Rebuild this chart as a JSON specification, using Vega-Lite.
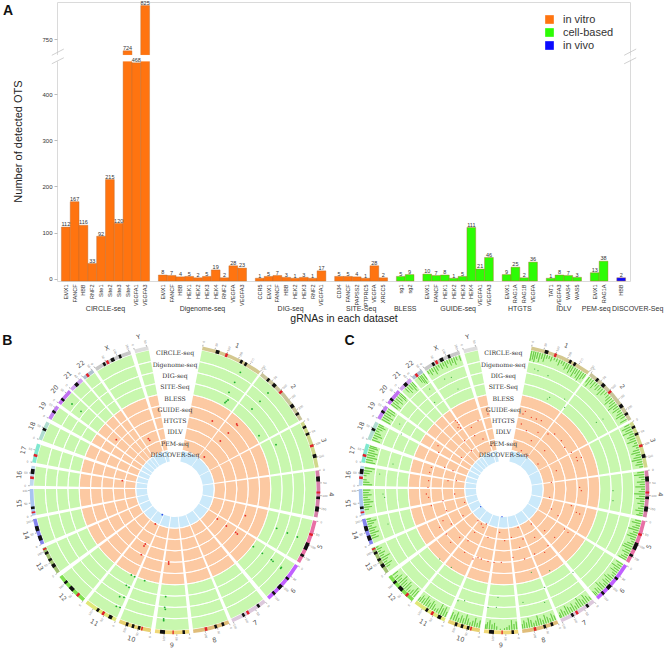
{"$schema":"https://vega.github.io/schema/vega-lite/v6.json","padding":{"left":2,"top":0,"right":0,"bottom":0},"background":"white","spacing":327,"bounds":"flush","config":{"view":{"stroke":null},"axis":{"labelFont":"Liberation Sans","titleFont":"Liberation Sans"},"legend":{"labelFont":"Liberation Sans"}},
"datasets":{
"bars":[
{"dataset":"CIRCLE-seq","grna":"EMX1","n":112,"type":"in vitro"},{"dataset":"CIRCLE-seq","grna":"FANCF","n":167,"type":"in vitro"},{"dataset":"CIRCLE-seq","grna":"HBB","n":116,"type":"in vitro"},{"dataset":"CIRCLE-seq","grna":"RNF2","n":33,"type":"in vitro"},{"dataset":"CIRCLE-seq","grna":"Site1","n":92,"type":"in vitro"},{"dataset":"CIRCLE-seq","grna":"Site2","n":215,"type":"in vitro"},{"dataset":"CIRCLE-seq","grna":"Site3","n":120,"type":"in vitro"},{"dataset":"CIRCLE-seq","grna":"Site4","n":724,"type":"in vitro"},{"dataset":"CIRCLE-seq","grna":"VEGFA1","n":468,"type":"in vitro"},{"dataset":"CIRCLE-seq","grna":"VEGFA3","n":825,"type":"in vitro"},
{"dataset":"Digenome-seq","grna":"EMX1","n":8,"type":"in vitro"},{"dataset":"Digenome-seq","grna":"FANCF","n":7,"type":"in vitro"},{"dataset":"Digenome-seq","grna":"HBB","n":4,"type":"in vitro"},{"dataset":"Digenome-seq","grna":"HEK1","n":5,"type":"in vitro"},{"dataset":"Digenome-seq","grna":"HEK2","n":2,"type":"in vitro"},{"dataset":"Digenome-seq","grna":"HEK3","n":5,"type":"in vitro"},{"dataset":"Digenome-seq","grna":"HEK4","n":19,"type":"in vitro"},{"dataset":"Digenome-seq","grna":"RNF2","n":2,"type":"in vitro"},{"dataset":"Digenome-seq","grna":"VEGFA","n":28,"type":"in vitro"},{"dataset":"Digenome-seq","grna":"VEGFA3","n":23,"type":"in vitro"},
{"dataset":"DIG-seq","grna":"CCR5","n":1,"type":"in vitro"},{"dataset":"DIG-seq","grna":"EMX1","n":5,"type":"in vitro"},{"dataset":"DIG-seq","grna":"FANCF","n":7,"type":"in vitro"},{"dataset":"DIG-seq","grna":"HBB","n":3,"type":"in vitro"},{"dataset":"DIG-seq","grna":"HEK2","n":1,"type":"in vitro"},{"dataset":"DIG-seq","grna":"HEK3","n":3,"type":"in vitro"},{"dataset":"DIG-seq","grna":"RNF2","n":1,"type":"in vitro"},{"dataset":"DIG-seq","grna":"VEGFA1","n":17,"type":"in vitro"},
{"dataset":"SITE-Seq","grna":"CD34","n":5,"type":"in vitro"},{"dataset":"SITE-Seq","grna":"FANCF","n":5,"type":"in vitro"},{"dataset":"SITE-Seq","grna":"PAPSS2","n":4,"type":"in vitro"},{"dataset":"SITE-Seq","grna":"PTPRC5","n":1,"type":"in vitro"},{"dataset":"SITE-Seq","grna":"VEGFA","n":28,"type":"in vitro"},{"dataset":"SITE-Seq","grna":"XRCC5","n":2,"type":"in vitro"},
{"dataset":"BLESS","grna":"sg1","n":5,"type":"cell-based"},{"dataset":"BLESS","grna":"sg2","n":9,"type":"cell-based"},
{"dataset":"GUIDE-seq","grna":"EMX1","n":10,"type":"cell-based"},{"dataset":"GUIDE-seq","grna":"FANCF","n":7,"type":"cell-based"},{"dataset":"GUIDE-seq","grna":"HEK1","n":8,"type":"cell-based"},{"dataset":"GUIDE-seq","grna":"HEK2","n":1,"type":"cell-based"},{"dataset":"GUIDE-seq","grna":"HEK3","n":5,"type":"cell-based"},{"dataset":"GUIDE-seq","grna":"HEK4","n":111,"type":"cell-based"},{"dataset":"GUIDE-seq","grna":"VEGFA1","n":21,"type":"cell-based"},{"dataset":"GUIDE-seq","grna":"VEGFA3","n":46,"type":"cell-based"},
{"dataset":"HTGTS","grna":"EMX1","n":9,"type":"cell-based"},{"dataset":"HTGTS","grna":"RAG1A","n":25,"type":"cell-based"},{"dataset":"HTGTS","grna":"RAG1B","n":2,"type":"cell-based"},{"dataset":"HTGTS","grna":"VEGFA","n":36,"type":"cell-based"},
{"dataset":"IDLV","grna":"TAT1","n":1,"type":"cell-based"},{"dataset":"IDLV","grna":"VEGFA3","n":8,"type":"cell-based"},{"dataset":"IDLV","grna":"WAS4","n":7,"type":"cell-based"},{"dataset":"IDLV","grna":"WAS5","n":3,"type":"cell-based"},
{"dataset":"PEM-seq","grna":"EMX1","n":13,"type":"cell-based"},{"dataset":"PEM-seq","grna":"RAG1A","n":38,"type":"cell-based"},
{"dataset":"DISCOVER-Seq","grna":"HBB","n":2,"type":"in vivo"}],
"sectors":[{"chr":"1","from":11,"to":36},{"chr":"2","from":36.9,"to":61.3},{"chr":"3","from":62.3,"to":81.4},{"chr":"4","from":82.6,"to":101.3},{"chr":"5","from":102.8,"to":120.6},{"chr":"6","from":122,"to":139.5},{"chr":"7","from":141.3,"to":156.6},{"chr":"8","from":158,"to":172.7},{"chr":"9","from":174.3,"to":188},{"chr":"10","from":189.7,"to":202.8},{"chr":"11","from":204.3,"to":218},{"chr":"12","from":219.4,"to":232.7},{"chr":"13","from":234.4,"to":245.9},{"chr":"14","from":247.4,"to":258},{"chr":"15","from":259.4,"to":270},{"chr":"16","from":271.3,"to":279.2},{"chr":"17","from":280.6,"to":288.2},{"chr":"18","from":290,"to":297.7},{"chr":"19","from":299.2,"to":305.1},{"chr":"20","from":306.4,"to":313},{"chr":"21","from":313.8,"to":319.6},{"chr":"22","from":320.5,"to":325.3},{"chr":"X","from":326.5,"to":342},{"chr":"Y","from":343.7,"to":349.3}],
"rings":[{"r":1},{"r":2},{"r":3},{"r":4},{"r":5},{"r":6},{"r":7},{"r":8},{"r":9}],
"bands":[{"s":16.5,"e":18,"st":"dark"},{"s":27,"e":28,"st":"dark"},{"s":29,"e":30,"st":"dark"},{"s":20.5,"e":21.5,"st":"cen"},{"s":40,"e":41,"st":"dark"},{"s":43,"e":44.5,"st":"dark"},{"s":54,"e":55.5,"st":"dark"},{"s":58,"e":59,"st":"dark"},{"s":47,"e":48,"st":"cen"},{"s":64,"e":65,"st":"dark"},{"s":67,"e":68,"st":"dark"},{"s":76,"e":77.5,"st":"dark"},{"s":72,"e":73,"st":"cen"},{"s":85,"e":87,"st":"dark"},{"s":97,"e":99,"st":"dark"},{"s":93,"e":94,"st":"dark"},{"s":91,"e":91.8,"st":"cen"},{"s":112,"e":115,"st":"dark"},{"s":117,"e":118,"st":"dark"},{"s":108,"e":109,"st":"cen"},{"s":132,"e":134,"st":"dark"},{"s":128,"e":129,"st":"dark"},{"s":136,"e":137,"st":"dark"},{"s":151,"e":152,"st":"dark"},{"s":144,"e":145,"st":"dark"},{"s":149,"e":150,"st":"cen"},{"s":160,"e":161,"st":"dark"},{"s":163,"e":164,"st":"dark"},{"s":167,"e":168,"st":"cen"},{"s":176,"e":177,"st":"dark"},{"s":184,"e":186,"st":"dark"},{"s":180.5,"e":181,"st":"cen"},{"s":194,"e":195,"st":"dark"},{"s":199,"e":200,"st":"dark"},{"s":196.5,"e":197.5,"st":"dark"},{"s":193,"e":193.6,"st":"cen"},{"s":206,"e":207.5,"st":"dark"},{"s":212,"e":213,"st":"dark"},{"s":209.5,"e":210.5,"st":"cen"},{"s":225,"e":227,"st":"dark"},{"s":229,"e":230,"st":"dark"},{"s":222,"e":223,"st":"cen"},{"s":237,"e":238.5,"st":"dark"},{"s":240,"e":241,"st":"dark"},{"s":243,"e":244,"st":"dark"},{"s":245,"e":245.6,"st":"cen"},{"s":249,"e":251,"st":"dark"},{"s":253,"e":255,"st":"dark"},{"s":262,"e":263,"st":"dark"},{"s":260.3,"e":261,"st":"cen"},{"s":276,"e":278,"st":"dark"},{"s":274,"e":275,"st":"cen"},{"s":283,"e":284,"st":"cen"},{"s":294,"e":295,"st":"dark"},{"s":302,"e":303,"st":"dark"},{"s":308,"e":309,"st":"dark"},{"s":316,"e":317.5,"st":"dark"},{"s":322,"e":323,"st":"cen"},{"s":330,"e":331,"st":"dark"},{"s":333.5,"e":335,"st":"dark"},{"s":337,"e":338,"st":"dark"},{"s":331.5,"e":332.5,"st":"cen"}],
"ticks":[{"a":11,"n":"0"},{"a":16,"n":"50"},{"a":21,"n":"100"},{"a":26,"n":"150"},{"a":31,"n":"200"},{"a":36,"n":"250"},{"a":36.9,"n":"0"},{"a":41.9,"n":"50"},{"a":46.9,"n":"100"},{"a":51.9,"n":"150"},{"a":56.9,"n":"200"},{"a":62.3,"n":"0"},{"a":67.3,"n":"50"},{"a":72.3,"n":"100"},{"a":77.3,"n":"150"},{"a":82.6,"n":"0"},{"a":87.6,"n":"50"},{"a":92.6,"n":"100"},{"a":97.6,"n":"150"},{"a":102.8,"n":"0"},{"a":107.8,"n":"50"},{"a":112.8,"n":"100"},{"a":117.8,"n":"150"},{"a":122,"n":"0"},{"a":127,"n":"50"},{"a":132,"n":"100"},{"a":137,"n":"150"},{"a":141.3,"n":"0"},{"a":146.3,"n":"50"},{"a":151.3,"n":"100"},{"a":156.3,"n":"150"},{"a":158,"n":"0"},{"a":163,"n":"50"},{"a":168,"n":"100"},{"a":174.3,"n":"0"},{"a":179.3,"n":"50"},{"a":184.3,"n":"100"},{"a":189.7,"n":"0"},{"a":194.7,"n":"50"},{"a":199.7,"n":"100"},{"a":204.3,"n":"0"},{"a":209.3,"n":"50"},{"a":214.3,"n":"100"},{"a":219.4,"n":"0"},{"a":224.4,"n":"50"},{"a":229.4,"n":"100"},{"a":234.4,"n":"0"},{"a":239.4,"n":"50"},{"a":244.4,"n":"100"},{"a":247.4,"n":"0"},{"a":252.4,"n":"50"},{"a":257.4,"n":"100"},{"a":259.4,"n":"0"},{"a":264.4,"n":"50"},{"a":269.4,"n":"100"},{"a":271.3,"n":"0"},{"a":276.3,"n":"50"},{"a":280.6,"n":"0"},{"a":285.6,"n":"50"},{"a":290,"n":"0"},{"a":295,"n":"50"},{"a":299.2,"n":"0"},{"a":304.2,"n":"50"},{"a":306.4,"n":"0"},{"a":311.4,"n":"50"},{"a":313.8,"n":"0"},{"a":318.8,"n":"40"},{"a":320.5,"n":"0"},{"a":325,"n":"50"},{"a":326.5,"n":"0"},{"a":331.5,"n":"50"},{"a":336.5,"n":"100"},{"a":341.5,"n":"150"},{"a":343.7,"n":"0"},{"a":348.7,"n":"50"}],
"tracks":[{"label":"CIRCLE-seq","y":88},{"label":"Digenome-seq","y":123},{"label":"DIG-seq","y":157},{"label":"SITE-Seq","y":190},{"label":"BLESS","y":224},{"label":"GUIDE-seq","y":258},{"label":"HTGTS","y":292},{"label":"IDLV","y":325},{"label":"PEM-seq","y":360},{"label":"DISCOVER-Seq","y":394}],
"dotsB":[{"x":717,"y":145,"c":"g"},{"x":700,"y":175,"c":"g"},{"x":683,"y":205,"c":"g"},{"x":680,"y":228,"c":"g"},{"x":675,"y":232,"c":"g"},{"x":671,"y":236,"c":"g"},{"x":800,"y":207,"c":"g"},{"x":776,"y":232,"c":"g"},{"x":752,"y":255,"c":"g"},{"x":773,"y":335,"c":"g"},{"x":824,"y":362,"c":"g"},{"x":826,"y":613,"c":"g"},{"x":858,"y":627,"c":"g"},{"x":888,"y":639,"c":"g"},{"x":756,"y":668,"c":"g"},{"x":783,"y":688,"c":"g"},{"x":810,"y":707,"c":"g"},{"x":815,"y":712,"c":"g"},{"x":840,"y":730,"c":"g"},{"x":838,"y":733,"c":"g"},{"x":493,"y":818,"c":"g"},{"x":490,"y":850,"c":"g"},{"x":492,"y":856,"c":"g"},{"x":487,"y":885,"c":"g"},{"x":487,"y":890,"c":"g"},{"x":390,"y":753,"c":"g"},{"x":400,"y":758,"c":"g"},{"x":430,"y":770,"c":"g"},{"x":375,"y":784,"c":"g"},{"x":383,"y":790,"c":"g"},{"x":355,"y":818,"c":"g"},{"x":368,"y":820,"c":"g"},{"x":345,"y":847,"c":"g"},{"x":356,"y":850,"c":"g"},{"x":212,"y":240,"c":"g"},{"x":239,"y":262,"c":"g"},{"x":633,"y":291,"c":"r"},{"x":706,"y":300,"c":"r"},{"x":708,"y":304,"c":"r"},{"x":681,"y":327,"c":"r"},{"x":657,"y":351,"c":"r"},{"x":609,"y":399,"c":"r"},{"x":732,"y":575,"c":"r"},{"x":648,"y":585,"c":"r"},{"x":675,"y":606,"c":"r"},{"x":703,"y":625,"c":"r"},{"x":708,"y":630,"c":"r"},{"x":502,"y":714,"c":"r"},{"x":502,"y":720,"c":"r"},{"x":432,"y":660,"c":"r"},{"x":428,"y":666,"c":"r"},{"x":420,"y":692,"c":"r"},{"x":462,"y":600,"c":"r"},{"x":363,"y":470,"c":"r"},{"x":345,"y":347,"c":"r"},{"x":441,"y":344,"c":"r"},{"x":445,"y":349,"c":"r"},{"x":483,"y":572,"c":"b"}],
"dotsC":[{"x":378,"y":295,"c":"r"},{"x":383,"y":302,"c":"r"},{"x":372,"y":290,"c":"r"},{"x":380,"y":310,"c":"r"},{"x":388,"y":312,"c":"r"},{"x":320,"y":365,"c":"r"},{"x":322,"y":385,"c":"r"},{"x":300,"y":430,"c":"r"},{"x":295,"y":445,"c":"r"},{"x":292,"y":470,"c":"r"},{"x":290,"y":490,"c":"r"},{"x":285,"y":510,"c":"r"},{"x":292,"y":520,"c":"r"},{"x":300,"y":545,"c":"r"},{"x":325,"y":610,"c":"r"},{"x":335,"y":590,"c":"r"},{"x":345,"y":630,"c":"r"},{"x":358,"y":655,"c":"r"},{"x":400,"y":685,"c":"r"},{"x":425,"y":705,"c":"r"},{"x":440,"y":700,"c":"r"},{"x":450,"y":705,"c":"r"},{"x":470,"y":712,"c":"r"},{"x":488,"y":715,"c":"r"},{"x":510,"y":715,"c":"r"},{"x":545,"y":700,"c":"r"},{"x":580,"y":705,"c":"r"},{"x":610,"y":690,"c":"r"},{"x":640,"y":685,"c":"r"},{"x":650,"y":665,"c":"r"},{"x":470,"y":640,"c":"r"},{"x":505,"y":625,"c":"r"},{"x":540,"y":640,"c":"r"},{"x":575,"y":645,"c":"r"},{"x":610,"y":640,"c":"r"},{"x":640,"y":620,"c":"r"},{"x":670,"y":640,"c":"r"},{"x":700,"y":615,"c":"r"},{"x":710,"y":625,"c":"r"},{"x":735,"y":565,"c":"r"},{"x":745,"y":570,"c":"r"},{"x":660,"y":555,"c":"r"},{"x":680,"y":575,"c":"r"},{"x":720,"y":545,"c":"r"},{"x":735,"y":400,"c":"r"},{"x":738,"y":410,"c":"r"},{"x":750,"y":400,"c":"r"},{"x":745,"y":490,"c":"r"},{"x":750,"y":500,"c":"r"},{"x":675,"y":440,"c":"r"},{"x":720,"y":385,"c":"r"},{"x":700,"y":370,"c":"r"},{"x":690,"y":350,"c":"r"},{"x":670,"y":330,"c":"r"},{"x":650,"y":330,"c":"r"},{"x":630,"y":290,"c":"r"},{"x":615,"y":285,"c":"r"},{"x":600,"y":280,"c":"r"},{"x":582,"y":262,"c":"r"},{"x":575,"y":270,"c":"r"},{"x":570,"y":300,"c":"r"},{"x":585,"y":320,"c":"r"},{"x":620,"y":325,"c":"r"},{"x":600,"y":350,"c":"r"},{"x":570,"y":380,"c":"r"},{"x":590,"y":395,"c":"r"},{"x":640,"y":380,"c":"r"},{"x":620,"y":420,"c":"r"},{"x":660,"y":475,"c":"r"},{"x":655,"y":520,"c":"r"},{"x":440,"y":590,"c":"r"},{"x":450,"y":600,"c":"r"},{"x":465,"y":600,"c":"r"},{"x":455,"y":610,"c":"r"},{"x":430,"y":625,"c":"r"},{"x":410,"y":650,"c":"r"},{"x":385,"y":640,"c":"r"},{"x":360,"y":600,"c":"r"},{"x":345,"y":560,"c":"r"},{"x":335,"y":530,"c":"r"},{"x":350,"y":470,"c":"r"},{"x":365,"y":440,"c":"r"},{"x":340,"y":430,"c":"r"},{"x":400,"y":350,"c":"r"},{"x":420,"y":310,"c":"r"},{"x":440,"y":290,"c":"r"},{"x":470,"y":270,"c":"r"},{"x":430,"y":335,"c":"r"},{"x":455,"y":345,"c":"r"},{"x":420,"y":380,"c":"r"},{"x":480,"y":365,"c":"r"},{"x":390,"y":400,"c":"r"},{"x":375,"y":470,"c":"r"},{"x":370,"y":510,"c":"r"},{"x":400,"y":535,"c":"r"},{"x":395,"y":575,"c":"r"},{"x":520,"y":650,"c":"r"},{"x":560,"y":610,"c":"r"},{"x":600,"y":600,"c":"r"},{"x":565,"y":670,"c":"r"},{"x":610,"y":135,"c":"g"},{"x":620,"y":140,"c":"g"},{"x":650,"y":155,"c":"g"},{"x":700,"y":225,"c":"g"},{"x":648,"y":225,"c":"g"},{"x":655,"y":220,"c":"g"},{"x":815,"y":285,"c":"g"},{"x":795,"y":295,"c":"g"},{"x":845,"y":500,"c":"g"},{"x":845,"y":530,"c":"g"},{"x":700,"y":250,"c":"g"},{"x":655,"y":740,"c":"g"},{"x":725,"y":745,"c":"g"},{"x":640,"y":790,"c":"g"},{"x":380,"y":830,"c":"g"},{"x":400,"y":830,"c":"g"},{"x":470,"y":850,"c":"g"},{"x":495,"y":850,"c":"g"},{"x":360,"y":730,"c":"g"},{"x":325,"y":705,"c":"g"},{"x":170,"y":600,"c":"g"},{"x":160,"y":520,"c":"g"},{"x":155,"y":510,"c":"g"},{"x":145,"y":450,"c":"g"},{"x":185,"y":420,"c":"g"},{"x":205,"y":300,"c":"g"},{"x":210,"y":330,"c":"g"},{"x":295,"y":195,"c":"g"},{"x":340,"y":165,"c":"g"},{"x":360,"y":160,"c":"g"},{"x":380,"y":195,"c":"g"},{"x":310,"y":235,"c":"g"},{"x":600,"y":745,"c":"g"},{"x":500,"y":820,"c":"g"},{"x":640,"y":835,"c":"g"},{"x":575,"y":835,"c":"g"},{"x":448,"y":548,"c":"b"},{"x":512,"y":578,"c":"b"}],
"hist":[{"a":11.4,"h":0.9},{"a":12.3,"h":0.75},{"a":13.1,"h":0.95},{"a":14,"h":0.6},{"a":15,"h":0.85},{"a":16,"h":0.5},{"a":17,"h":0.7},{"a":18,"h":0.35},{"a":19,"h":0.3},{"a":20,"h":0.45},{"a":21.2,"h":0.25},{"a":22.3,"h":0.3},{"a":23.5,"h":0.55},{"a":24.5,"h":0.3},{"a":25.5,"h":0.4},{"a":26.6,"h":0.65},{"a":27.5,"h":0.5},{"a":28.6,"h":0.8},{"a":29.5,"h":0.6},{"a":30.6,"h":0.9},{"a":31.5,"h":0.55},{"a":32.5,"h":0.8},{"a":33.5,"h":0.95},{"a":34.5,"h":0.7},{"a":35.4,"h":0.5},
{"a":37.4,"h":0.6},{"a":38.4,"h":0.9},{"a":39.4,"h":0.5},{"a":40.5,"h":0.75},{"a":41.5,"h":0.35},{"a":42.5,"h":0.6},{"a":43.6,"h":0.45},{"a":44.6,"h":0.8},{"a":45.7,"h":0.55},{"a":46.8,"h":0.3},{"a":48,"h":0.4},{"a":49,"h":0.6},{"a":50,"h":0.85},{"a":51,"h":0.5},{"a":52,"h":0.7},{"a":53,"h":0.95},{"a":54,"h":0.55},{"a":55,"h":0.75},{"a":56,"h":0.4},{"a":57,"h":0.6},{"a":58,"h":0.8},{"a":59,"h":0.45},{"a":60.4,"h":0.65},
{"a":62.8,"h":0.5},{"a":63.8,"h":0.85},{"a":64.8,"h":0.6},{"a":65.8,"h":0.95},{"a":66.8,"h":0.4},{"a":67.8,"h":0.7},{"a":68.8,"h":0.55},{"a":69.8,"h":0.85},{"a":70.8,"h":0.3},{"a":71.8,"h":0.5},{"a":72.8,"h":0.25},{"a":73.8,"h":0.6},{"a":74.8,"h":0.8},{"a":75.8,"h":0.45},{"a":76.8,"h":0.7},{"a":77.8,"h":0.9},{"a":78.8,"h":0.5},{"a":79.8,"h":0.65},{"a":80.8,"h":0.35},
{"a":83.1,"h":0.6},{"a":84.1,"h":0.9},{"a":85.1,"h":0.5},{"a":86.1,"h":0.3},{"a":87.1,"h":0.7},{"a":88.1,"h":0.45},{"a":89.1,"h":0.85},{"a":90.1,"h":0.35},{"a":91.1,"h":0.55},{"a":92.1,"h":0.95},{"a":93.1,"h":0.5},{"a":94.1,"h":0.75},{"a":95.1,"h":0.4},{"a":96.1,"h":0.6},{"a":97.1,"h":0.3},{"a":98.1,"h":0.5},{"a":99.1,"h":0.7},{"a":100.1,"h":0.35},{"a":100.9,"h":0.55},
{"a":103.3,"h":0.55},{"a":104.3,"h":0.8},{"a":105.3,"h":0.4},{"a":106.3,"h":0.65},{"a":107.3,"h":0.95},{"a":108.3,"h":0.45},{"a":109.3,"h":0.7},{"a":110.3,"h":0.85},{"a":111.3,"h":0.5},{"a":112.3,"h":0.3},{"a":113.3,"h":0.6},{"a":114.3,"h":0.8},{"a":115.3,"h":0.9},{"a":116.3,"h":0.5},{"a":117.3,"h":0.7},{"a":118.3,"h":0.4},{"a":119.3,"h":0.6},{"a":120.2,"h":0.75},
{"a":122.5,"h":0.7},{"a":123.5,"h":0.45},{"a":124.5,"h":0.9},{"a":125.5,"h":0.55},{"a":126.5,"h":0.75},{"a":127.5,"h":0.4},{"a":128.5,"h":0.3},{"a":129.5,"h":0.6},{"a":130.5,"h":0.8},{"a":131.5,"h":0.5},{"a":132.5,"h":0.65},{"a":133.5,"h":0.35},{"a":134.5,"h":0.7},{"a":135.5,"h":0.9},{"a":136.5,"h":0.45},{"a":137.5,"h":0.6},{"a":138.5,"h":0.35},{"a":139.1,"h":0.5},
{"a":141.8,"h":0.35},{"a":142.8,"h":0.6},{"a":143.8,"h":0.85},{"a":144.8,"h":0.5},{"a":145.8,"h":0.7},{"a":146.8,"h":0.95},{"a":147.8,"h":0.6},{"a":148.8,"h":0.4},{"a":149.8,"h":0.75},{"a":150.8,"h":0.5},{"a":151.8,"h":0.65},{"a":152.8,"h":0.85},{"a":153.8,"h":0.45},{"a":154.8,"h":0.7},{"a":155.8,"h":0.5},{"a":156.3,"h":0.3},
{"a":158.5,"h":0.45},{"a":159.5,"h":0.7},{"a":160.5,"h":0.35},{"a":161.5,"h":0.55},{"a":162.5,"h":0.8},{"a":163.5,"h":0.4},{"a":164.5,"h":0.6},{"a":165.5,"h":0.9},{"a":166.5,"h":0.5},{"a":167.5,"h":0.35},{"a":168.5,"h":0.65},{"a":169.5,"h":0.85},{"a":170.5,"h":0.5},{"a":171.5,"h":0.7},{"a":172.3,"h":0.4},
{"a":174.8,"h":0.7},{"a":175.8,"h":0.5},{"a":176.8,"h":0.85},{"a":177.8,"h":0.4},{"a":178.8,"h":0.25},{"a":179.8,"h":0.15},{"a":181.5,"h":0.1},{"a":183,"h":0.3},{"a":184,"h":0.6},{"a":185,"h":0.45},{"a":186,"h":0.8},{"a":187,"h":0.6},{"a":187.6,"h":0.4},
{"a":190.2,"h":0.65},{"a":191.2,"h":0.4},{"a":192.2,"h":0.8},{"a":193.2,"h":0.5},{"a":194.2,"h":0.3},{"a":195.2,"h":0.6},{"a":196.2,"h":0.9},{"a":197.2,"h":0.5},{"a":198.2,"h":0.7},{"a":199.2,"h":0.4},{"a":200.2,"h":0.85},{"a":201.2,"h":0.55},{"a":202.3,"h":0.7},
{"a":204.8,"h":0.5},{"a":205.8,"h":0.85},{"a":206.8,"h":0.65},{"a":207.8,"h":0.95},{"a":208.8,"h":0.4},{"a":209.8,"h":0.3},{"a":210.8,"h":0.6},{"a":211.8,"h":0.8},{"a":212.8,"h":0.5},{"a":213.8,"h":0.7},{"a":214.8,"h":0.9},{"a":215.8,"h":0.55},{"a":216.8,"h":0.7},{"a":217.6,"h":0.4},
{"a":219.9,"h":0.7},{"a":220.9,"h":0.9},{"a":221.9,"h":0.5},{"a":222.9,"h":0.3},{"a":223.9,"h":0.65},{"a":224.9,"h":0.85},{"a":225.9,"h":0.55},{"a":226.9,"h":0.75},{"a":227.9,"h":0.95},{"a":228.9,"h":0.5},{"a":229.9,"h":0.7},{"a":230.9,"h":0.4},{"a":232.2,"h":0.6},
{"a":236.5,"h":0.4},{"a":237.5,"h":0.7},{"a":238.5,"h":0.35},{"a":239.5,"h":0.55},{"a":240.5,"h":0.85},{"a":241.5,"h":0.4},{"a":242.5,"h":0.6},{"a":243.5,"h":0.3},{"a":244.5,"h":0.5},{"a":245.4,"h":0.25},
{"a":249.5,"h":0.65},{"a":250.5,"h":0.45},{"a":251.5,"h":0.8},{"a":252.5,"h":0.5},{"a":253.5,"h":0.7},{"a":254.5,"h":0.35},{"a":255.5,"h":0.6},{"a":256.5,"h":0.85},{"a":257.5,"h":0.4},
{"a":261.5,"h":0.4},{"a":262.5,"h":0.7},{"a":263.5,"h":0.5},{"a":264.5,"h":0.85},{"a":265.5,"h":0.6},{"a":266.5,"h":0.4},{"a":267.5,"h":0.75},{"a":268.5,"h":0.5},{"a":269.5,"h":0.65},
{"a":271.8,"h":0.8},{"a":272.8,"h":0.55},{"a":273.8,"h":0.3},{"a":275.5,"h":0.25},{"a":276.5,"h":0.5},{"a":277.5,"h":0.7},{"a":278.7,"h":0.9},
{"a":281.1,"h":0.85},{"a":282.1,"h":0.6},{"a":283.1,"h":0.95},{"a":284.1,"h":0.7},{"a":285.1,"h":0.9},{"a":286.1,"h":0.55},{"a":287.1,"h":0.8},{"a":287.8,"h":0.65},
{"a":290.5,"h":0.75},{"a":291.5,"h":0.45},{"a":292.5,"h":0.8},{"a":293.5,"h":0.6},{"a":294.5,"h":0.35},{"a":295.5,"h":0.55},{"a":296.5,"h":0.75},{"a":297.3,"h":0.5},
{"a":299.7,"h":0.9},{"a":300.7,"h":0.7},{"a":301.7,"h":0.95},{"a":302.7,"h":0.6},{"a":303.7,"h":0.85},{"a":304.7,"h":0.75},
{"a":306.9,"h":0.7},{"a":307.9,"h":0.9},{"a":308.9,"h":0.5},{"a":309.9,"h":0.8},{"a":310.9,"h":0.6},{"a":312,"h":0.85},{"a":312.7,"h":0.7},
{"a":315.5,"h":0.5},{"a":316.5,"h":0.75},{"a":317.5,"h":0.55},{"a":318.5,"h":0.85},{"a":319.3,"h":0.6},
{"a":322.5,"h":0.6},{"a":323.3,"h":0.8},{"a":324,"h":0.95},{"a":325,"h":0.65},
{"a":327,"h":0.35},{"a":328,"h":0.6},{"a":329,"h":0.4},{"a":330,"h":0.75},{"a":331,"h":0.5},{"a":332,"h":0.3},{"a":333,"h":0.55},{"a":334,"h":0.4},{"a":335,"h":0.65},{"a":336,"h":0.35},{"a":337,"h":0.6},{"a":338,"h":0.45},{"a":339,"h":0.7},{"a":340,"h":0.35},{"a":341.4,"h":0.5}]
},
"vconcat":[
{"spacing":0,"bounds":"flush","hconcat":[
{"width":41.3,"height":279,"data":{"values":[{"label":"A","x":-7,"y":9}]},"mark":{"type":"text","font":"Liberation Sans","fontWeight":"bold","fontSize":14,"color":"#111"},"encoding":{"x":{"field":"x","type":"quantitative","axis":null,"scale":{"domain":[0,41.3],"nice":false,"zero":false}},"y":{"field":"y","type":"quantitative","axis":null,"scale":{"domain":[279,0],"nice":false,"zero":false}},"text":{"field":"label"}}},
{"width":573,"height":279,"view":{"stroke":"#dadada","strokeWidth":1},
"encoding":{"x":{"field":"k","type":"nominal","title":"gRNAs in each dataset","scale":{"paddingInner":0,"paddingOuter":0.5,"domain":["CIRCLE-seq|EMX1","CIRCLE-seq|FANCF","CIRCLE-seq|HBB","CIRCLE-seq|RNF2","CIRCLE-seq|Site1","CIRCLE-seq|Site2","CIRCLE-seq|Site3","CIRCLE-seq|Site4","CIRCLE-seq|VEGFA1","CIRCLE-seq|VEGFA3","g1","Digenome-seq|EMX1","Digenome-seq|FANCF","Digenome-seq|HBB","Digenome-seq|HEK1","Digenome-seq|HEK2","Digenome-seq|HEK3","Digenome-seq|HEK4","Digenome-seq|RNF2","Digenome-seq|VEGFA","Digenome-seq|VEGFA3","g2","DIG-seq|CCR5","DIG-seq|EMX1","DIG-seq|FANCF","DIG-seq|HBB","DIG-seq|HEK2","DIG-seq|HEK3","DIG-seq|RNF2","DIG-seq|VEGFA1","g3","SITE-Seq|CD34","SITE-Seq|FANCF","SITE-Seq|PAPSS2","SITE-Seq|PTPRC5","SITE-Seq|VEGFA","SITE-Seq|XRCC5","g4","BLESS|sg1","BLESS|sg2","g5","GUIDE-seq|EMX1","GUIDE-seq|FANCF","GUIDE-seq|HEK1","GUIDE-seq|HEK2","GUIDE-seq|HEK3","GUIDE-seq|HEK4","GUIDE-seq|VEGFA1","GUIDE-seq|VEGFA3","g6","HTGTS|EMX1","HTGTS|RAG1A","HTGTS|RAG1B","HTGTS|VEGFA","g7","IDLV|TAT1","IDLV|VEGFA3","IDLV|WAS4","IDLV|WAS5","g8","PEM-seq|EMX1","PEM-seq|RAG1A","g9","DISCOVER-Seq|HBB"]},
"axis":{"labelAngle":270,"labelFontSize":5.5,"labelColor":"#333","labelExpr":"split(datum.label,'|')[1] || ''","ticks":false,"domain":false,"labelPadding":3,"labelOverlap":false,"titleFontSize":10.5,"titleFontWeight":"normal","titleColor":"#222","titlePadding":8}},
"y":{"type":"quantitative","scale":{"domain":[-5,472,714,833],"range":[279,59,53.3,0],"nice":false,"zero":false}}},
"layer":[
{"data":{"name":"bars"},"transform":[{"calculate":"datum.dataset+'|'+datum.grna","as":"k"}],"mark":{"type":"bar","stroke":"#b86a30","strokeWidth":0.4},"encoding":{"y":{"field":"n","type":"quantitative","title":"Number of detected OTS","axis":{"values":[0,50,100,150,200,250,300,350,400,450,750,800],"labelFontSize":6,"labelColor":"#333","tickSize":3,"tickColor":"#bbb","domain":false,"grid":false,"labelPadding":2,"titleFontSize":11,"titleFontWeight":"normal","titleColor":"#222","titlePadding":18,"titleY":139}},"y2":{"datum":-5},"color":{"field":"type","type":"nominal","scale":{"domain":["in vitro","cell-based","in vivo"],"range":["#ff7410","#2dfc05","#0a0aff"]},"legend":{"title":null,"orient":"none","legendX":529,"legendY":12,"symbolType":"square","symbolSize":75,"symbolStrokeWidth":0,"labelFontSize":11,"labelColor":"#333","rowPadding":1,"labelOffset":8}}}},
{"data":{"values":[{}]},"mark":{"type":"rect","fill":"white","stroke":"white","strokeWidth":1},"encoding":{"x":{"value":0},"x2":{"value":573},"y":{"datum":476},"y2":{"datum":708}}},
{"data":{"values":[{"k":"CIRCLE-seq|EMX1"}]},"mark":{"type":"rule","color":"#c4c4c4","strokeWidth":0.8,"xOffset":-14,"x2Offset":-2},"encoding":{"x2":{"field":"k"},"y":{"datum":714},"y2":{"datum":728}}},
{"data":{"values":[{"k":"CIRCLE-seq|EMX1"}]},"mark":{"type":"rule","color":"#c4c4c4","strokeWidth":0.8,"xOffset":-14,"x2Offset":-2},"encoding":{"x2":{"field":"k"},"y":{"datum":466},"y2":{"datum":610}}},
{"data":{"values":[{"k":"DISCOVER-Seq|HBB"}]},"mark":{"type":"rule","color":"#c4c4c4","strokeWidth":0.8,"xOffset":3,"x2Offset":15},"encoding":{"x2":{"field":"k"},"y":{"datum":714},"y2":{"datum":728}}},
{"data":{"values":[{"k":"DISCOVER-Seq|HBB"}]},"mark":{"type":"rule","color":"#c4c4c4","strokeWidth":0.8,"xOffset":3,"x2Offset":15},"encoding":{"x2":{"field":"k"},"y":{"datum":466},"y2":{"datum":610}}},
{"data":{"name":"bars"},"transform":[{"calculate":"datum.dataset+'|'+datum.grna","as":"k"}],"mark":{"type":"text","font":"Liberation Sans","fontSize":5.5,"color":"#333","dy":-2.7},"encoding":{"y":{"field":"n","type":"quantitative"},"text":{"field":"n"}}},
{"data":{"values":[{"group":"CIRCLE-seq","k":"CIRCLE-seq|Site1"},{"group":"Digenome-seq","k":"Digenome-seq|HEK2"},{"group":"DIG-seq","k":"DIG-seq|HBB"},{"group":"SITE-Seq","k":"SITE-Seq|PAPSS2"},{"group":"BLESS","k":"BLESS|sg1"},{"group":"GUIDE-seq","k":"GUIDE-seq|HEK2"},{"group":"HTGTS","k":"HTGTS|RAG1A"},{"group":"IDLV","k":"IDLV|VEGFA3"}]},"mark":{"type":"text","font":"Liberation Sans","fontSize":7,"color":"#333"},"encoding":{"x":{"field":"k","type":"nominal","bandPosition":1},"y":{"datum":-65},"text":{"field":"group"}}},
{"data":{"values":[{"group":"PEM-seq","k":"PEM-seq|EMX1"}]},"mark":{"type":"text","font":"Liberation Sans","fontSize":7,"color":"#333","dx":-3},"encoding":{"x":{"field":"k","type":"nominal","bandPosition":1},"y":{"datum":-65},"text":{"field":"group"}}},
{"data":{"values":[{"group":"DISCOVER-Seq","k":"DISCOVER-Seq|HBB"}]},"mark":{"type":"text","font":"Liberation Sans","fontSize":7,"color":"#333","dx":12},"encoding":{"x":{"field":"k","type":"nominal","bandPosition":1},"y":{"datum":-65},"text":{"field":"group"}}}
]}
]},
{"spacing":9,"bounds":"flush","hconcat":[
{"width":320,"height":320,"encoding":{"x":{"type":"quantitative","axis":null,"scale":{"domain":[41,1001],"nice":false,"zero":false}},"y":{"type":"quantitative","axis":null,"scale":{"domain":[975,15],"nice":false,"zero":false}}},
"layer":[
{"data":{"name":"sectors"},"mark":{"type":"arc","fill":"#c8f7ae"},"encoding":{"theta":{"field":"from","type":"quantitative","scale":{"domain":[0,360],"nice":false}},"theta2":{"field":"to"},"radius":{"datum":6,"type":"quantitative","scale":{"type":"linear","domain":[0,10],"range":[28,141],"zero":false,"nice":false}},"radius2":{"datum":10}}},
{"data":{"name":"sectors"},"mark":{"type":"arc","fill":"#fcc9a2"},"encoding":{"theta":{"field":"from","type":"quantitative"},"theta2":{"field":"to"},"radius":{"datum":1,"type":"quantitative"},"radius2":{"datum":6}}},
{"data":{"name":"sectors"},"mark":{"type":"arc","fill":"#cbe9fa"},"encoding":{"theta":{"field":"from","type":"quantitative"},"theta2":{"field":"to"},"radius":{"datum":0,"type":"quantitative"},"radius2":{"datum":1}}},
{"data":{"name":"rings"},"mark":{"type":"arc","fill":null,"stroke":"white","strokeWidth":0.9},"encoding":{"theta":{"datum":0,"type":"quantitative"},"theta2":{"datum":360},"radius":{"field":"r","type":"quantitative"},"radius2":{"field":"r"}}},
{"data":{"name":"sectors"},"mark":{"type":"arc"},"encoding":{"theta":{"field":"from","type":"quantitative"},"theta2":{"field":"to"},"radius":{"datum":10.05,"type":"quantitative"},"radius2":{"datum":10.38},"fill":{"field":"chr","legend":null,"scale":{"domain":["1","2","3","4","5","6","7","8","9","10","11","12","13","14","15","16","17","18","19","20","21","22","X","Y"],"range":["#d4c88f","#c9c49a","#cfd88a","#d680a8","#e870a5","#c060ff","#dcc8dc","#e0bd7a","#f0d878","#e8d070","#dfe878","#80e050","#a0c070","#8484ee","#a8c4f0","#c0d8ee","#80e8d0","#b0dcd0","#c080f0","#c070f0","#d0a0f0","#b0c0d0","#c8c8c8","#dddddd"]}}}},
{"data":{"name":"bands"},"transform":[{"filter":"datum.st=='dark'"}],"mark":{"type":"arc","fill":"#111"},"encoding":{"theta":{"field":"s","type":"quantitative"},"theta2":{"field":"e"},"radius":{"datum":10.05,"type":"quantitative"},"radius2":{"datum":10.38}}},
{"data":{"name":"bands"},"transform":[{"filter":"datum.st=='cen'"}],"mark":{"type":"arc","fill":"#e0202a"},"encoding":{"theta":{"field":"s","type":"quantitative"},"theta2":{"field":"e"},"radius":{"datum":10.05,"type":"quantitative"},"radius2":{"datum":10.38}}},
{"data":{"name":"ticks"},"mark":{"type":"arc","fill":null,"stroke":"#888","strokeWidth":0.4},"encoding":{"theta":{"field":"a","type":"quantitative"},"theta2":{"field":"a"},"radius":{"datum":10.38,"type":"quantitative"},"radius2":{"datum":10.52}}},
{"data":{"name":"ticks"},"transform":[{"calculate":"datum.a<180?datum.a-90:datum.a+90","as":"rot"}],"mark":{"type":"text","font":"Liberation Sans","fontSize":3,"color":"#777"},"encoding":{"theta":{"field":"a","type":"quantitative","stack":null},"radius":{"datum":10.8,"type":"quantitative"},"angle":{"field":"rot","type":"quantitative","scale":null},"text":{"field":"n"}}},
{"data":{"name":"sectors"},"transform":[{"calculate":"(datum.from+datum.to)/2","as":"mid"},{"calculate":"datum.mid>100&&datum.mid<260?datum.mid-180:datum.mid","as":"rot"}],"mark":{"type":"text","font":"DejaVu Sans","fontSize":6.5,"color":"#555"},"encoding":{"theta":{"field":"mid","type":"quantitative","stack":null},"radius":{"datum":11.35,"type":"quantitative"},"angle":{"field":"rot","type":"quantitative","scale":null},"text":{"field":"chr"}}},
{"data":{"name":"dotsB"},"transform":[{"filter":"datum.c=='g'"}],"mark":{"type":"circle","size":3.5,"color":"#20b030","opacity":1},"encoding":{"x":{"field":"x","type":"quantitative"},"y":{"field":"y","type":"quantitative"}}},
{"data":{"name":"dotsB"},"transform":[{"filter":"datum.c=='r'"}],"mark":{"type":"circle","size":3.5,"color":"#e8302a","opacity":1},"encoding":{"x":{"field":"x","type":"quantitative"},"y":{"field":"y","type":"quantitative"}}},
{"data":{"name":"dotsB"},"transform":[{"filter":"datum.c=='b'"}],"mark":{"type":"circle","size":3.5,"color":"#2a50e8","opacity":1},"encoding":{"x":{"field":"x","type":"quantitative"},"y":{"field":"y","type":"quantitative"}}},
{"data":{"name":"tracks"},"mark":{"type":"text","font":"DejaVu Serif","fontSize":6.2,"color":"#333"},"encoding":{"x":{"datum":521},"y":{"field":"y","type":"quantitative"},"text":{"field":"label"}}},
{"data":{"values":[{"label":"B","x":18,"y":52}]},"mark":{"type":"text","font":"Liberation Sans","fontWeight":"bold","fontSize":14,"color":"#111"},"encoding":{"x":{"field":"x","type":"quantitative"},"y":{"field":"y","type":"quantitative"},"text":{"field":"label"}}}
]},
{"width":320,"height":320,"encoding":{"x":{"type":"quantitative","axis":null,"scale":{"domain":[38,998],"nice":false,"zero":false}},"y":{"type":"quantitative","axis":null,"scale":{"domain":[975,15],"nice":false,"zero":false}}},
"layer":[
{"data":{"name":"sectors"},"mark":{"type":"arc","fill":"#c8f7ae"},"encoding":{"theta":{"field":"from","type":"quantitative","scale":{"domain":[0,360],"nice":false}},"theta2":{"field":"to"},"radius":{"datum":6,"type":"quantitative","scale":{"type":"linear","domain":[0,10],"range":[28,141],"zero":false,"nice":false}},"radius2":{"datum":10}}},
{"data":{"name":"sectors"},"mark":{"type":"arc","fill":"#fcc9a2"},"encoding":{"theta":{"field":"from","type":"quantitative"},"theta2":{"field":"to"},"radius":{"datum":1,"type":"quantitative"},"radius2":{"datum":6}}},
{"data":{"name":"sectors"},"mark":{"type":"arc","fill":"#cbe9fa"},"encoding":{"theta":{"field":"from","type":"quantitative"},"theta2":{"field":"to"},"radius":{"datum":0,"type":"quantitative"},"radius2":{"datum":1}}},
{"data":{"name":"rings"},"mark":{"type":"arc","fill":null,"stroke":"white","strokeWidth":0.9},"encoding":{"theta":{"datum":0,"type":"quantitative"},"theta2":{"datum":360},"radius":{"field":"r","type":"quantitative"},"radius2":{"field":"r"}}},
{"data":{"name":"hist"},"transform":[{"calculate":"10-datum.h","as":"r"}],"mark":{"type":"arc","fill":null,"stroke":"#62c83c","strokeWidth":0.7},"encoding":{"theta":{"field":"a","type":"quantitative"},"theta2":{"field":"a"},"radius":{"field":"r","type":"quantitative"},"radius2":{"datum":10}}},
{"data":{"name":"sectors"},"mark":{"type":"arc"},"encoding":{"theta":{"field":"from","type":"quantitative"},"theta2":{"field":"to"},"radius":{"datum":10.05,"type":"quantitative"},"radius2":{"datum":10.38},"fill":{"field":"chr","legend":null,"scale":{"domain":["1","2","3","4","5","6","7","8","9","10","11","12","13","14","15","16","17","18","19","20","21","22","X","Y"],"range":["#d4c88f","#c9c49a","#cfd88a","#d680a8","#e870a5","#c060ff","#dcc8dc","#e0bd7a","#f0d878","#e8d070","#dfe878","#80e050","#a0c070","#8484ee","#a8c4f0","#c0d8ee","#80e8d0","#b0dcd0","#c080f0","#c070f0","#d0a0f0","#b0c0d0","#c8c8c8","#dddddd"]}}}},
{"data":{"name":"bands"},"transform":[{"filter":"datum.st=='dark'"}],"mark":{"type":"arc","fill":"#111"},"encoding":{"theta":{"field":"s","type":"quantitative"},"theta2":{"field":"e"},"radius":{"datum":10.05,"type":"quantitative"},"radius2":{"datum":10.38}}},
{"data":{"name":"bands"},"transform":[{"filter":"datum.st=='cen'"}],"mark":{"type":"arc","fill":"#e0202a"},"encoding":{"theta":{"field":"s","type":"quantitative"},"theta2":{"field":"e"},"radius":{"datum":10.05,"type":"quantitative"},"radius2":{"datum":10.38}}},
{"data":{"name":"ticks"},"mark":{"type":"arc","fill":null,"stroke":"#888","strokeWidth":0.4},"encoding":{"theta":{"field":"a","type":"quantitative"},"theta2":{"field":"a"},"radius":{"datum":10.38,"type":"quantitative"},"radius2":{"datum":10.52}}},
{"data":{"name":"ticks"},"transform":[{"calculate":"datum.a<180?datum.a-90:datum.a+90","as":"rot"}],"mark":{"type":"text","font":"Liberation Sans","fontSize":3,"color":"#777"},"encoding":{"theta":{"field":"a","type":"quantitative","stack":null},"radius":{"datum":10.8,"type":"quantitative"},"angle":{"field":"rot","type":"quantitative","scale":null},"text":{"field":"n"}}},
{"data":{"name":"sectors"},"transform":[{"calculate":"(datum.from+datum.to)/2","as":"mid"},{"calculate":"datum.mid>100&&datum.mid<260?datum.mid-180:datum.mid","as":"rot"}],"mark":{"type":"text","font":"DejaVu Sans","fontSize":6.5,"color":"#555"},"encoding":{"theta":{"field":"mid","type":"quantitative","stack":null},"radius":{"datum":11.35,"type":"quantitative"},"angle":{"field":"rot","type":"quantitative","scale":null},"text":{"field":"chr"}}},
{"data":{"name":"dotsC"},"transform":[{"filter":"datum.c=='g'"}],"mark":{"type":"circle","size":1.4,"color":"#2fa838","opacity":1},"encoding":{"x":{"field":"x","type":"quantitative"},"y":{"field":"y","type":"quantitative"}}},
{"data":{"name":"dotsC"},"transform":[{"filter":"datum.c=='r'"}],"mark":{"type":"circle","size":2,"color":"#e8402a","opacity":1},"encoding":{"x":{"field":"x","type":"quantitative"},"y":{"field":"y","type":"quantitative"}}},
{"data":{"name":"dotsC"},"transform":[{"filter":"datum.c=='b'"}],"mark":{"type":"circle","size":2,"color":"#2a50e8","opacity":1},"encoding":{"x":{"field":"x","type":"quantitative"},"y":{"field":"y","type":"quantitative"}}},
{"data":{"name":"tracks"},"mark":{"type":"text","font":"DejaVu Serif","fontSize":6.2,"color":"#333"},"encoding":{"x":{"datum":516},"y":{"field":"y","type":"quantitative"},"text":{"field":"label"}}},
{"data":{"values":[{"label":"C","x":55,"y":52}]},"mark":{"type":"text","font":"Liberation Sans","fontWeight":"bold","fontSize":14,"color":"#111"},"encoding":{"x":{"field":"x","type":"quantitative"},"y":{"field":"y","type":"quantitative"},"text":{"field":"label"}}}
]}
]}
]}
